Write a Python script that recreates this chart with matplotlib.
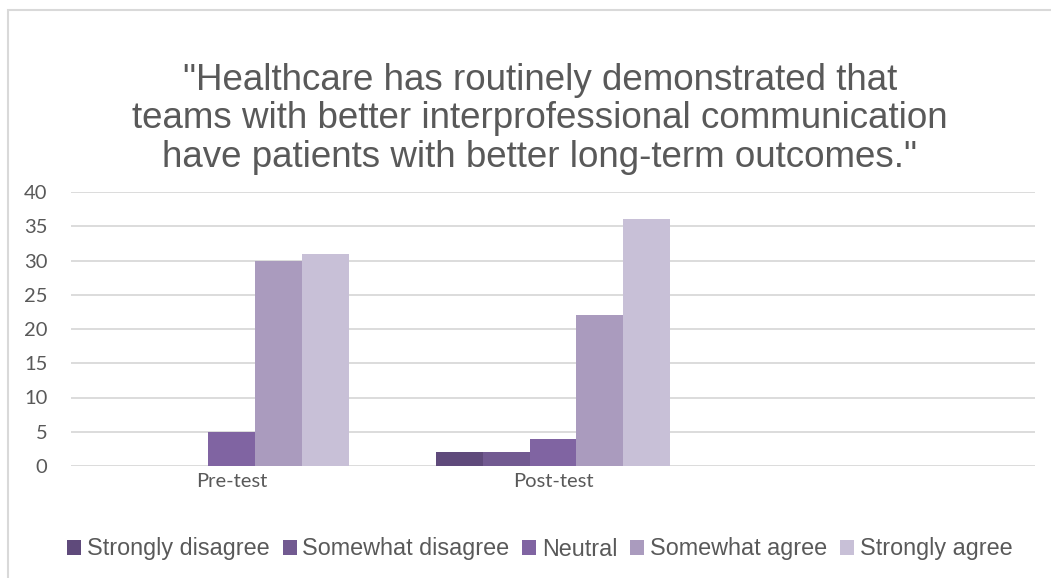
import matplotlib
matplotlib.use("Agg")
import matplotlib.pyplot as plt
import numpy as np
from matplotlib.patches import Rectangle

# Survey responses per test phase
categories = ["Pre-test", "Post-test", ""]
responses = ["Strongly disagree", "Somewhat disagree", "Neutral",
             "Somewhat agree", "Strongly agree"]
strongly_disagree = [0, 2, 0]
somewhat_disagree = [0, 2, 0]
neutral = [5, 4, 0]
somewhat_agree = [30, 22, 0]
strongly_agree = [31, 36, 0]
series = [strongly_disagree, somewhat_disagree, neutral, somewhat_agree, strongly_agree]
colors = ["#5f4a7b", "#725a91", "#8064a2", "#aa9bbe", "#c8c0d7"]
yticks = [0, 5, 10, 15, 20, 25, 30, 35, 40]

title = ('"Healthcare has routinely demonstrated that\n'
         'teams with better interprofessional communication\n'
         'have patients with better long-term outcomes."')

W, H = 1051, 578
fig = plt.figure(figsize=(W / 100, H / 100), dpi=100)
fig.patch.set_facecolor("white")

# chart-area frame (left and top edges visible)
fig.add_artist(Rectangle((7.5 / W, -0.1), 1.2, (H - 10.5) / H + 0.1,
                         transform=fig.transFigure, fill=False,
                         edgecolor="#d9d9d9", linewidth=1.5))

left, right = 71 / W, 1035 / W
bottom, top = (H - 466) / H, (H - 192) / H
ax = fig.add_axes([left, bottom, right - left, top - bottom])

x = np.arange(len(categories))
bw = 0.146
for i, (vals, col, lab) in enumerate(zip(series, colors, responses)):
    ax.bar(x + (i - 2) * bw, vals, width=bw, color=col, label=lab,
           edgecolor="none", zorder=3)

ax.set_xlim(-0.5, 2.5)
ax.set_ylim(0, 40)
ax.set_yticks(yticks)
ax.set_xticks(x)
ax.set_xticklabels(categories)
ax.grid(axis="y", color="#d9d9d9", linewidth=1.3, zorder=0)
for s in ax.spines.values():
    s.set_visible(False)
ax.tick_params(axis="both", length=0, colors="#595959")
ax.tick_params(axis="y", pad=17)
ax.tick_params(axis="x", pad=5)
for t in ax.get_yticklabels() + ax.get_xticklabels():
    t.set_fontfamily("Lato")
    t.set_fontsize(14.5)
    t.set_color("#595959")

fig.text(540 / W, 1 - 119 / H, title, ha="center", va="center",
         fontsize=26.5, color="#595959", family="Liberation Sans",
         linespacing=1.12)

leg = fig.legend(loc="center", bbox_to_anchor=(540 / W, 1 - 549 / H),
                 ncol=5, frameon=False, handlelength=0.6, handleheight=0.6,
                 handletextpad=0.25, columnspacing=0.55,
                 prop={"family": "Liberation Sans", "size": 16.8})
for t in leg.get_texts():
    t.set_color("#595959")

fig.savefig("out.png", dpi=100, facecolor="white")
